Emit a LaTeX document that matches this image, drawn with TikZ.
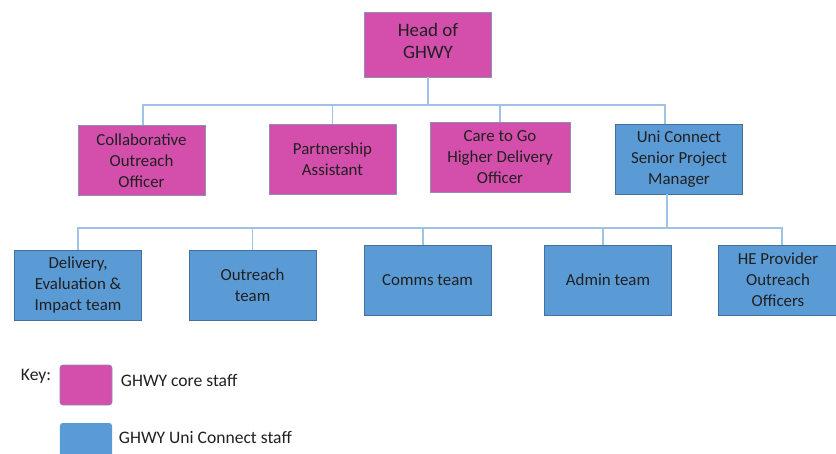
\documentclass[tikz,border=0pt]{standalone}
\usepackage{fontspec}
\setmainfont{Carlito}
\usetikzlibrary{positioning,calc}
\definecolor{coremag}{HTML}{D44FAC}
\definecolor{unblue}{HTML}{5B9BD5}
\definecolor{uniedge}{HTML}{41719C}
\definecolor{coreedge}{HTML}{8C8FB8}
\definecolor{linkblue}{HTML}{9DC3E6}
\definecolor{inktext}{HTML}{202020}

\begin{document}
\begin{tikzpicture}[
    x=0.025cm, y=-0.025cm,
    role/.style={minimum width=3.18cm, minimum height=1.75cm, align=center, font=\fontsize{12}{14.9}\selectfont, text=inktext, inner sep=2pt},
    core/.style={role, fill=coremag, draw=coreedge, line width=0.5pt},
    uni/.style={role, fill=unblue, draw=uniedge, line width=0.5pt},
    keybox/.style={minimum width=1.3cm, minimum height=1cm, rounded corners=2pt, inner sep=0pt},
    keytext/.style={anchor=west, font=\fontsize{12.5}{14}\selectfont, text=inktext},
    link/.style={draw=linkblue, line width=0.8pt},
]
\useasboundingbox (0,0) rectangle (836,454);

% --- Head ---
\node[core, minimum height=1.62cm, font=\fontsize{13.5}{15.6}\selectfont] (head) at (428,44.5) {Head of\\GHWY\\[-10pt]};

% --- Core staff row ---
\node[core] (coll) at (141.5,160.5) {Collaborative\\Outreach\\Officer};
\node[core] (part) at (332.5,159.5) {Partnership\\Assistant};
\node[core, minimum width=3.5cm] (care) at (500,157.5) {Care to Go\\Higher Delivery\\Officer};
\node[uni] (ucm) at (679,159) {Uni Connect\\Senior Project\\Manager};

% --- Uni Connect teams ---
\node[uni] (dei) at (78,285) {Delivery,\\Evaluation \&\\Impact team};
\node[uni] (outr) at (252.5,285) {Outreach\\team};
\node[uni] (comms) at (427.5,280) {Comms team};
\node[uni] (admin) at (608,280) {Admin team};
\node[uni, minimum width=3cm] (hep) at (778,280) {HE Provider\\Outreach\\Officers};

% --- Lines ---
\coordinate (busA) at (428,105);
\coordinate (busB) at (667,228);
\coordinate (collup) at ($(coll.north)+(1.5,0)$);
\coordinate (ucmup) at ($(ucm.north)+(-14,0)$);
\coordinate (ucmdown) at ($(ucm.south)+(-12,0)$);
\coordinate (hepup) at ($(hep.north)+(4,0)$);
\coordinate (commsup) at ($(comms.north)+(-4.5,0)$);
\coordinate (adminup) at ($(admin.north)+(-5,0)$);
\draw[link] (head) -- (head |- busA);
\draw[link] (collup) -- (collup |- busA) -- (ucmup |- busA) -- (ucmup);
\draw[link] (part) -- (part |- busA);
\draw[link] (care) -- (care |- busA);
\draw[link] (ucmdown) -- (ucmdown |- busB);
\draw[link] (dei.north) -- (dei |- busB) -- (hepup |- busB) -- (hepup);
\draw[link] (outr) -- (outr |- busB);
\draw[link] (commsup) -- (commsup |- busB);
\draw[link] (adminup) -- (adminup |- busB);

% --- Key ---
\node[keytext] (keylbl) at (16,376) {Key:};
\node[keybox, fill=coremag, draw=coreedge, line width=0.4pt] (keycore) at (86,385) {};
\node[keytext] (keycoretxt) at (116,380) {GHWY core staff};
\node[keybox, fill=unblue] (keyuni) at (86,443) {};
\node[keytext] (keyunitxt) at (114,437) {GHWY Uni Connect staff};

\end{tikzpicture}
\end{document}
